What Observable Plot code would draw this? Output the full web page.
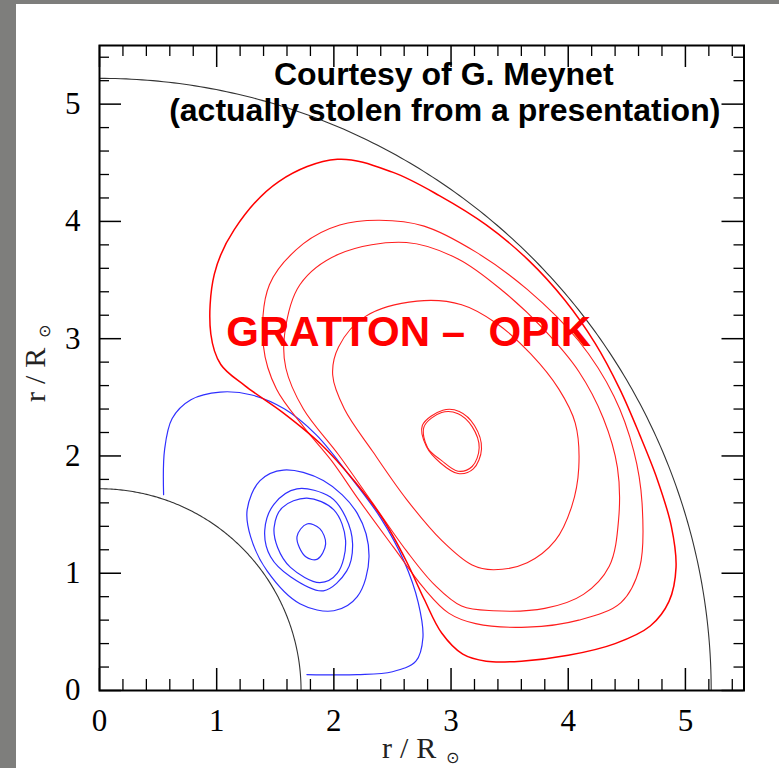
<!DOCTYPE html>
<html><head><meta charset="utf-8">
<script src="https://cdn.jsdelivr.net/npm/d3@7"></script>
<script src="https://cdn.jsdelivr.net/npm/@observablehq/plot@0.6"></script>
<style>
html,body{margin:0;padding:0;}
body{background:#7e7e7c;width:779px;height:768px;overflow:hidden;position:relative;}
#chart{position:absolute;left:16px;top:4px;width:763px;height:764px;background:#fff;}
</style></head><body><div id="chart"></div>
<script>
// ---- data (units of r/R_sun) ----
const majorTicks = [0, 1, 2, 3, 4, 5];
const minorTicks = [0.2,0.4,0.6,0.8,1.2,1.4,1.6,1.8,2.2,2.4,2.6,2.8,3.2,3.4,3.6,3.8,4.2,4.4,4.6,4.8,5.2,5.4];
const surfaceRadii = [1.72, 5.22];

const redLoopA = [[2.03,4.53],[2.50,4.42],[2.90,4.22],[3.30,3.97],[3.66,3.67],[3.97,3.33],[4.23,2.96],[4.44,2.57],[4.61,2.18],[4.76,1.80],[4.88,1.40],[4.92,1.05],[4.86,0.76],[4.70,0.55],[4.40,0.40],[4.00,0.30],[3.60,0.25],[3.30,0.25],[3.10,0.31],[2.92,0.49],[2.77,0.78],[2.62,1.10],[2.42,1.46],[2.18,1.78],[1.89,2.10],[1.565,2.37],[1.24,2.60],[1.035,2.78],[0.95,3.04],[0.98,3.55],[1.15,3.93],[1.53,4.34]];
const redLoopB = [[2.39,4.01],[2.77,3.96],[3.21,3.74],[3.65,3.42],[4.09,2.98],[4.39,2.51],[4.56,2.04],[4.63,1.60],[4.61,1.05],[4.45,0.75],[4.09,0.60],[3.65,0.54],[3.21,0.57],[2.98,0.66],[2.77,0.87],[2.51,1.22],[2.21,1.63],[1.98,1.96],[1.74,2.25],[1.51,2.57],[1.40,2.93],[1.45,3.46],[1.74,3.81],[2.05,3.97]];
const redLoopC = [[2.62,3.82],[3.06,3.68],[3.45,3.40],[3.80,3.07],[4.09,2.72],[4.30,2.32],[4.42,1.90],[4.43,1.46],[4.35,1.06],[4.13,0.82],[3.80,0.70],[3.36,0.68],[3.09,0.72],[2.86,0.90],[2.62,1.19],[2.33,1.60],[2.04,2.01],[1.74,2.40],[1.59,2.75],[1.58,3.04],[1.71,3.46],[2.04,3.72]];
const redLoopD = [[2.71,3.32],[3.09,3.29],[3.39,3.13],[3.68,2.87],[3.92,2.57],[4.06,2.28],[4.09,1.90],[4.03,1.57],[3.89,1.28],[3.65,1.09],[3.36,1.03],[3.18,1.07],[2.92,1.28],[2.62,1.63],[2.33,2.04],[2.09,2.40],[1.99,2.69],[2.04,2.93],[2.27,3.19]];
const redLoopE1 = [[2.92,2.37],[3.06,2.36],[3.18,2.25],[3.24,2.07],[3.18,1.91],[3.06,1.87],[2.92,1.96],[2.80,2.07],[2.77,2.25]];
const redLoopE2 = [[2.93,2.39],[3.07,2.38],[3.20,2.26],[3.26,2.06],[3.19,1.89],[3.06,1.85],[2.91,1.94],[2.79,2.08],[2.755,2.26]];

const blueOuter = [[0.547,1.67],[0.555,2.05],[0.62,2.32],[0.78,2.48],[1.03,2.545],[1.30,2.52],[1.58,2.40],[1.85,2.18],[2.12,1.85],[2.40,1.47],[2.60,1.10],[2.72,0.75],[2.76,0.45],[2.70,0.25],[2.50,0.16],[2.20,0.135],[1.77,0.136]];
const blueLoop1 = [[1.57,1.88],[1.91,1.79],[2.20,1.51],[2.30,1.14],[2.20,0.80],[2.00,0.68],[1.71,0.74],[1.43,1.02],[1.29,1.31],[1.26,1.54],[1.37,1.79]];
const blueLoop2 = [[1.685,1.72],[1.97,1.65],[2.10,1.48],[2.16,1.25],[2.11,1.02],[1.91,0.85],[1.63,0.97],[1.46,1.14],[1.41,1.365],[1.49,1.59]];
const blueLoop3 = [[1.77,1.64],[2.00,1.54],[2.10,1.28],[2.03,1.00],[1.88,0.92],[1.63,1.05],[1.52,1.22],[1.49,1.39],[1.56,1.56]];
const blueLoop4 = [[1.77,1.42],[1.88,1.38],[1.93,1.25],[1.86,1.12],[1.76,1.14],[1.685,1.31]];

// ---- tables ----
const rows = (name, pts) => pts.map(([x, y]) => ({loop: name, x, y}));
const redThin = [...rows("B", redLoopB), ...rows("C", redLoopC), ...rows("D", redLoopD), ...rows("E1", redLoopE1), ...rows("E2", redLoopE2)];
const redThick = rows("A", redLoopA);
const blueClosed = [...rows("1", blueLoop1), ...rows("2", blueLoop2), ...rows("3", blueLoop3), ...rows("4", blueLoop4)];
const blueOpen = rows("outer", blueOuter);
// circular surfaces of given radius
const arcs = surfaceRadii.flatMap((r, i) => d3.range(0, 90.25, 0.5).map(a => ({loop: i, x: r * Math.cos(a * Math.PI / 180), y: r * Math.sin(a * Math.PI / 180)})));

const W = 763, H = 764, mL = 83, mR = 35.5, mT = 41, mB = 78;
const iW = W - mL - mR, iH = H - mT - mB;
const serif = "Liberation Serif";
const sans = "Liberation Sans";

const chart = Plot.plot({
  width: W, height: H,
  marginLeft: mL, marginRight: mR, marginTop: mT, marginBottom: mB,
  x: {domain: [0, 5.5], label: null},
  y: {domain: [0, 5.5], label: null},
  style: {background: "white"},
  marks: [
    Plot.line(arcs, {x: "x", y: "y", z: "loop", stroke: "#333", strokeWidth: 1.1}),
    Plot.line(blueClosed, {x: "x", y: "y", z: "loop", curve: "catmull-rom-closed", stroke: "#2f2fff", strokeWidth: 1.2}),
    Plot.line(blueOpen, {x: "x", y: "y", curve: "catmull-rom", stroke: "#2f2fff", strokeWidth: 1.2}),
    Plot.line(redThin, {x: "x", y: "y", z: "loop", curve: "catmull-rom-closed", stroke: "#ff1f1f", strokeWidth: 1.1}),
    Plot.line(redThick, {x: "x", y: "y", curve: "catmull-rom-closed", stroke: "#ff0000", strokeWidth: 1.5}),
    // inward ticks, four sides
    Plot.ruleX(minorTicks, {x: d => d, insetTop: iH - 11, stroke: "black", strokeWidth: 1.3}),
    Plot.ruleX(majorTicks, {x: d => d, insetTop: iH - 22, stroke: "black", strokeWidth: 1.5}),
    Plot.ruleX(minorTicks, {x: d => d, insetBottom: iH - 11, stroke: "black", strokeWidth: 1.3}),
    Plot.ruleX(majorTicks, {x: d => d, insetBottom: iH - 22, stroke: "black", strokeWidth: 1.5}),
    Plot.ruleY(minorTicks, {y: d => d, insetRight: iW - 10, stroke: "black", strokeWidth: 1.3}),
    Plot.ruleY(majorTicks, {y: d => d, insetRight: iW - 22, stroke: "black", strokeWidth: 1.5}),
    Plot.ruleY(minorTicks, {y: d => d, insetLeft: iW - 10, stroke: "black", strokeWidth: 1.3}),
    Plot.ruleY(majorTicks, {y: d => d, insetLeft: iW - 22, stroke: "black", strokeWidth: 1.5}),
    Plot.frame({stroke: "black", strokeWidth: 2}),
    Plot.axisX(majorTicks, {anchor: "bottom", tickSize: 0, tickPadding: 18, tickFormat: d => String(d), fontSize: 31, fontFamily: serif, label: null}),
    Plot.axisY(majorTicks, {anchor: "left", tickSize: 0, tickPadding: 19, tickFormat: d => String(d), fontSize: 31, fontFamily: serif, label: null}),
    Plot.text(["Courtesy of G. Meynet"], {text: d => d, frameAnchor: "top", dx: 22, dy: 39, lineAnchor: "bottom", textAnchor: "middle", fontSize: 32, fontWeight: "bold", fontFamily: sans, fill: "black"}),
    Plot.text(["(actually stolen from a presentation)"], {text: d => d, frameAnchor: "top", dx: 23, dy: 75, lineAnchor: "bottom", textAnchor: "middle", fontSize: 32, fontWeight: "bold", fontFamily: sans, fill: "black"}),
    Plot.text(["GRATTON \u2013 \u00a0OPIK"], {text: d => d, frameAnchor: "top", dx: -13, dy: 300, lineAnchor: "bottom", textAnchor: "middle", fontSize: 42, fontWeight: "bold", fontFamily: sans, fill: "#ff0000"})
  ]
});
document.getElementById("chart").appendChild(chart);

// axis titles r/R_sun with subscript sun symbol
const svg = d3.select(chart);
function title(g) {
  g.append("text").attr("text-anchor", "start").attr("font-family", serif).attr("font-size", 30)
    .attr("fill", "#222").attr("letter-spacing", 8).text("r/R");
  g.append("text").attr("text-anchor", "start").attr("font-family", "DejaVu Sans").attr("font-size", 16)
    .attr("fill", "#222").attr("x", 64).attr("y", 5).text("\u2299");
}
title(svg.append("g").attr("transform", "translate(366,754)"));
title(svg.append("g").attr("transform", "translate(29,398) rotate(-90)"));
</script></body></html>
